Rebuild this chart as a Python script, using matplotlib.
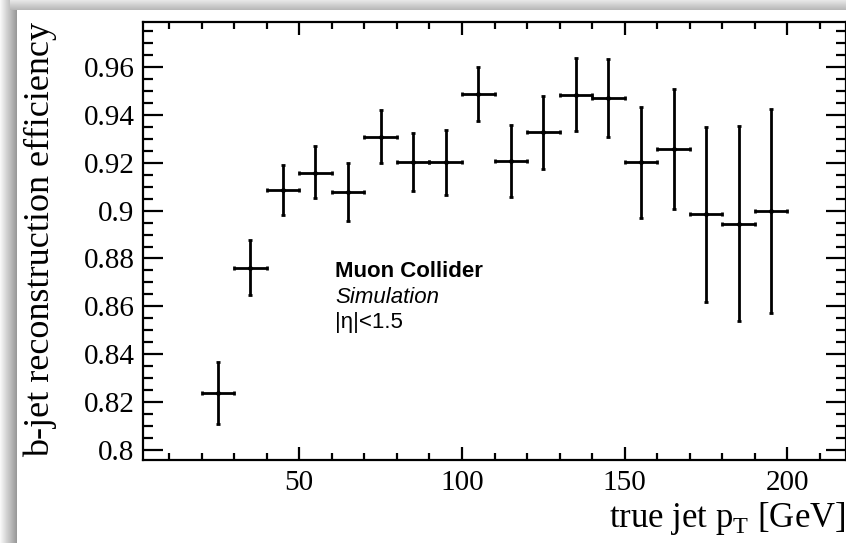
import numpy as np
import matplotlib
matplotlib.use("Agg")
import matplotlib.pyplot as plt
from matplotlib.ticker import MultipleLocator

# bin centres and efficiencies
pt = [25, 35, 45, 55, 65, 75, 85, 95, 105, 115, 125, 135, 145, 155, 165, 175, 185, 195]
pt_err = [5] * 18
eff = [0.8237, 0.8762, 0.9086, 0.9159, 0.9076, 0.9309, 0.9201, 0.9201, 0.9488,
       0.9207, 0.9327, 0.9485, 0.9470, 0.9201, 0.9258, 0.8985, 0.8946, 0.8999]
eff_hi = [0.8367, 0.8878, 0.9192, 0.9270, 0.9197, 0.9419, 0.9324, 0.9336, 0.9602,
          0.9356, 0.9480, 0.9637, 0.9633, 0.9432, 0.9510, 0.9349, 0.9353, 0.9425]
eff_lo = [0.8109, 0.8647, 0.8982, 0.9052, 0.8956, 0.9197, 0.9080, 0.9066, 0.9373,
          0.9058, 0.9172, 0.9334, 0.9308, 0.8971, 0.9006, 0.8620, 0.8538, 0.8574]

eff = np.array(eff)
yerr = [eff - np.array(eff_lo), np.array(eff_hi) - eff]

plt.rcParams['mathtext.fontset'] = 'custom'
plt.rcParams['mathtext.rm'] = 'Liberation Serif'

W, H = 846, 543
fig = plt.figure(figsize=(W / 100, H / 100), dpi=100)

# grey canvas border (ROOT style bevel)
bg = np.ones((H, W))
bg[:, :17] = np.linspace(0.97, 0.6, 17)[None, :]
bg[:10, 10:] = np.linspace(0.9, 0.72, 10)[:, None]
bgax = fig.add_axes([0, 0, 1, 1])
bgax.imshow(bg, cmap='gray', vmin=0, vmax=1, aspect='auto', interpolation='nearest')
bgax.axis('off')

ax = fig.add_axes([143 / W, (H - 460) / H, (846 - 143) / W, (460 - 22) / H])
ax.errorbar(pt, eff, xerr=pt_err, yerr=yerr, fmt='o', color='black', ms=2.5,
            elinewidth=2, capsize=1.6, capthick=2)

ax.set_xlim(2, 218)
ax.set_ylim(0.7958, 0.9788)
ax.xaxis.set_major_locator(MultipleLocator(50))
ax.xaxis.set_minor_locator(MultipleLocator(10))
ax.yaxis.set_minor_locator(MultipleLocator(0.005))
ax.set_yticks([0.8, 0.82, 0.84, 0.86, 0.88, 0.9, 0.92, 0.94, 0.96])
ax.set_yticklabels(['0.8', '0.82', '0.84', '0.86', '0.88', '0.9', '0.92', '0.94', '0.96'])

for s in ax.spines.values():
    s.set_linewidth(1.6)
ax.tick_params(which='both', direction='in', top=True, right=True, width=1.6,
               labelsize=21, labelfontfamily='Liberation Serif')
ax.tick_params(axis='x', which='major', length=9.4, pad=7)
ax.tick_params(axis='x', which='minor', length=4.7)
ax.tick_params(axis='y', which='major', length=14.4, pad=6)
ax.tick_params(axis='y', which='minor', length=7.2)

ax.set_ylabel('b-jet reconstruction efficiency', fontsize=26, family='Liberation Serif', loc='top')
ax.yaxis.set_label_coords(-0.122, 1.0)
ax.set_xlabel(r'true jet p$_{\mathrm{T}}$ [GeV]', fontsize=25, family='Liberation Serif', loc='right')
ax.xaxis.set_label_coords(1.0, -0.154)
ax.xaxis.label.set_va('baseline')

ax.text(0.273, 0.418, 'Muon Collider', transform=ax.transAxes, fontsize=16,
        fontweight='bold', family='Liberation Sans', va='baseline')
ax.text(0.273, 0.358, 'Simulation', transform=ax.transAxes, fontsize=16,
        style='italic', family='Liberation Sans', va='baseline')
ax.text(0.273, 0.301, '|η|<1.5', transform=ax.transAxes, fontsize=16,
        family='Liberation Sans', va='baseline')

fig.savefig('out.png', dpi=100)
